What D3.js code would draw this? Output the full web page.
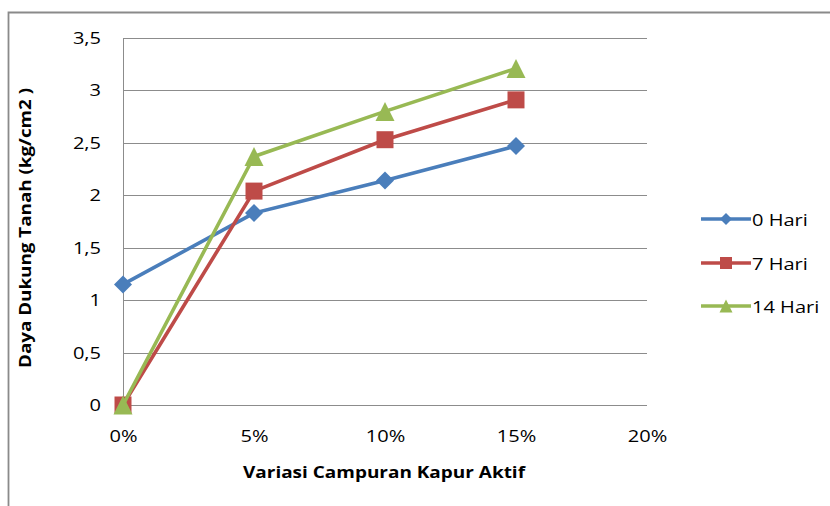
<!DOCTYPE html>
<html>
<head>
<meta charset="utf-8">
<script src="https://cdn.jsdelivr.net/npm/d3@7"></script>
<style>
  html, body { margin: 0; padding: 0; background: #fff; }
  svg { display: block; }
  text { font-family: "Open Sans", Lato, sans-serif; fill: #000; }
</style>
</head>
<body>
<svg id="chart" width="830" height="506"></svg>
<script>
// Kadar kapur aktif (%) dan daya dukung tanah (kg/cm2) per umur pemeraman
const kadarKapur = [0, 5, 10, 15];
const hari0  = [1.15, 1.83, 2.14, 2.47];
const hari7  = [0,    2.04, 2.53, 2.91];
const hari14 = [0,    2.37, 2.80, 3.21];
const seriesNames = ["0 Hari", "7 Hari", "14 Hari"];
const xTicks = [0, 5, 10, 15, 20];
const yTicks = [0, 0.5, 1, 1.5, 2, 2.5, 3, 3.5];

// marker shapes sized by their half-extent r (bounding box centred on the point)
const shapes = {
  diamond(ctx, r) { ctx.moveTo(0, -r); ctx.lineTo(r, 0); ctx.lineTo(0, r); ctx.lineTo(-r, 0); ctx.closePath(); },
  square(ctx, r)  { ctx.rect(-r, -r, 2 * r, 2 * r); },
  triangle(ctx, r){ ctx.moveTo(0, -r); ctx.lineTo(r, r); ctx.lineTo(-r, r); ctx.closePath(); }
};
const marker = (kind, r) => { const p = d3.path(); shapes[kind](p, r); return p.toString(); };

const series = [
  { name: seriesNames[0], values: hari0,  color: "#4A7EBB", kind: "diamond",  r: 9,   lr: 6 },
  { name: seriesNames[1], values: hari7,  color: "#BE4B48", kind: "square",   r: 8.5, lr: 6 },
  { name: seriesNames[2], values: hari14, color: "#98B954", kind: "triangle", r: 9.5, lr: 6.5 }
];

const svg = d3.select("#chart");
const stretch = 1.18;   // widen glyphs horizontally

// chart frame
svg.append("path")
  .attr("d", "M8.5,506 V12.5 H830")
  .attr("fill", "none")
  .attr("stroke", "#8a8a8a")
  .attr("stroke-width", 1.8);

const plot = { left: 123, right: 647, top: 38, bottom: 405 };

const x = d3.scaleLinear().domain([0, 20]).range([plot.left, plot.right]);
const y = d3.scaleLinear().domain([0, 3.5]).range([plot.bottom, plot.top]);

// horizontal gridlines
svg.append("g")
  .selectAll("line")
  .data(yTicks)
  .join("line")
  .attr("x1", plot.left)
  .attr("x2", plot.right)
  .attr("y1", d => Math.round(y(d)) + 0.5)
  .attr("y2", d => Math.round(y(d)) + 0.5)
  .attr("stroke", "#8c8c8c")
  .attr("stroke-width", 1);

// vertical axis line
svg.append("line")
  .attr("x1", plot.left + 0.5).attr("x2", plot.left + 0.5)
  .attr("y1", plot.top).attr("y2", plot.bottom + 0.5)
  .attr("stroke", "#8c8c8c");

const tickFont = "17px";

// y tick labels
const yAxis = d3.axisLeft(y)
  .tickValues(yTicks)
  .tickSize(0)
  .tickPadding(22)
  .tickFormat(d => String(d).replace(".", ","));
const gy = svg.append("g").attr("transform", `translate(${plot.left},0)`).call(yAxis);
gy.select(".domain").remove();
gy.selectAll("text")
  .style("font-size", tickFont).style("font-family", "'Open Sans', sans-serif")
  .attr("fill", "#000")
  .attr("x", -22 / stretch)
  .attr("transform", `scale(${stretch},1)`);

// x tick labels
const xAxis = d3.axisBottom(x)
  .tickValues(xTicks)
  .tickSize(0)
  .tickPadding(25)
  .tickFormat(d => d + "%");
const gx = svg.append("g").attr("transform", `translate(0,${plot.bottom})`).call(xAxis);
gx.select(".domain").remove();
gx.selectAll("text")
  .style("font-size", tickFont).style("font-family", "'Open Sans', sans-serif")
  .attr("fill", "#000")
  .attr("transform", `scale(${stretch},1)`);

// axis titles
svg.append("text")
  .attr("x", 384).attr("y", 478)
  .attr("text-anchor", "middle")
  .attr("textLength", 282).attr("lengthAdjust", "spacingAndGlyphs")
  .style("font-size", "16.5px").style("font-weight", "bold")
  .text("Variasi Campuran Kapur Aktif");

svg.append("text")
  .attr("transform", "translate(31,228) rotate(-90)")
  .attr("text-anchor", "middle")
  .attr("textLength", 280).attr("lengthAdjust", "spacingAndGlyphs")
  .style("font-size", "16.5px").style("font-weight", "bold")
  .text("Daya Dukung Tanah (kg/cm2 )");

// series lines and markers
const line = d3.line().x((d, i) => x(kadarKapur[i])).y(d => y(d));

series.forEach(s => {
  svg.append("path")
    .datum(s.values)
    .attr("d", line)
    .attr("fill", "none")
    .attr("stroke", s.color)
    .attr("stroke-width", 3.6)
    .attr("stroke-linejoin", "round");

  svg.append("g")
    .selectAll("path")
    .data(s.values)
    .join("path")
    .attr("d", marker(s.kind, s.r))
    .attr("transform", (d, i) => `translate(${x(kadarKapur[i])},${y(d)})`)
    .attr("fill", s.color);
});

// legend
const legend = svg.append("g");
const legendRows = [219, 263, 306];
series.forEach((s, i) => {
  const g = legend.append("g").attr("transform", `translate(0,${legendRows[i]})`);
  g.append("line")
    .attr("x1", 701).attr("x2", 751)
    .attr("stroke", s.color).attr("stroke-width", 3.6);
  g.append("path")
    .attr("d", marker(s.kind, s.lr))
    .attr("transform", "translate(726,0)")
    .attr("fill", s.color);
  g.append("text")
    .attr("x", 752 / stretch).attr("y", 6.5)
    .attr("transform", `scale(${stretch},1)`)
    .style("font-size", "17px")
    .text(s.name);
});
</script>
</body>
</html>
